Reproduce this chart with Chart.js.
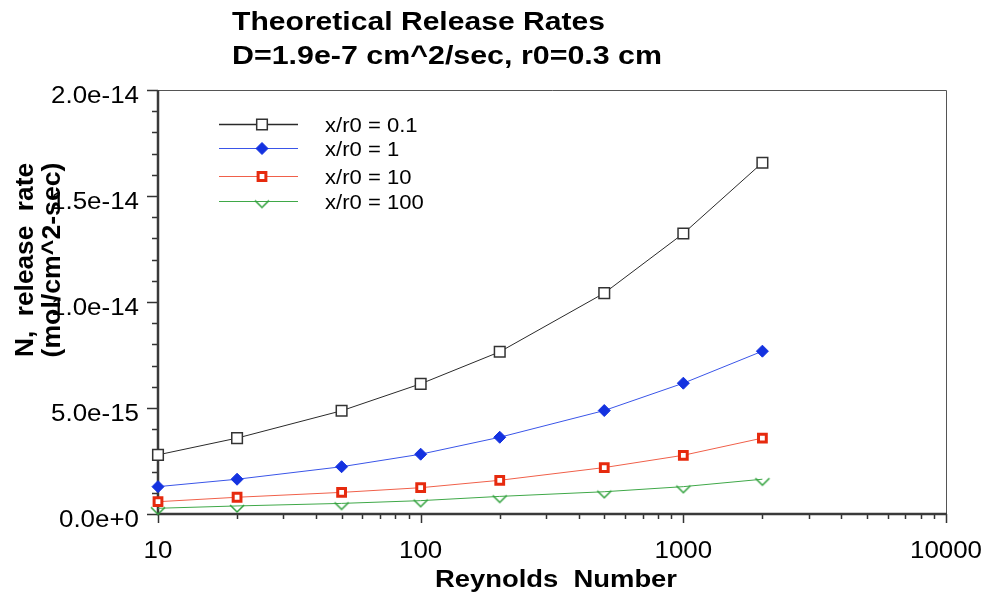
<!DOCTYPE html>
<html>
<head>
<meta charset="utf-8">
<script src="https://cdn.jsdelivr.net/npm/chart.js@4/dist/chart.umd.min.js"></script>
<style>
  body { margin: 0; background: #fff; }
  canvas { display: block; }
</style>
</head>
<body>
<canvas id="chart" width="984" height="594"></canvas>
<script>
// Data (release rate in mol/cm^2-sec)
const reynolds = [10, 20, 50, 100, 200, 500, 1000, 2000];
const rate01  = [2.79e-15, 3.58e-15, 4.87e-15, 6.14e-15, 7.65e-15, 10.42e-15, 13.23e-15, 16.57e-15];
const rate1   = [1.29e-15, 1.64e-15, 2.23e-15, 2.82e-15, 3.62e-15, 4.88e-15, 6.17e-15, 7.68e-15];
const rate10  = [0.58e-15, 0.79e-15, 1.02e-15, 1.24e-15, 1.59e-15, 2.19e-15, 2.77e-15, 3.58e-15];
const rate100 = [0.27e-15, 0.38e-15, 0.50e-15, 0.63e-15, 0.83e-15, 1.05e-15, 1.29e-15, 1.64e-15];
const seriesLabels = ["x/r0 = 0.1", "x/r0 = 1", "x/r0 = 10", "x/r0 = 100"];

const xTickValues = [10, 100, 1000, 10000];
const yTickValues = [0, 5e-15, 1e-14, 1.5e-14, 2e-14];
const yMinorStep = 1e-15;

const titleLines = ["Theoretical Release Rates", "D=1.9e-7 cm^2/sec, r0=0.3 cm"];
const yTitleLines = ["N,  release  rate", "(mol/cm^2-sec)"];
const xTitle = "Reynolds  Number";

const FONT = "'Liberation Sans', Arial, Helvetica, sans-serif";

// green open chevron marker
const chevron = document.createElement("canvas");
chevron.width = 20; chevron.height = 20;
(function(){
  const c = chevron.getContext("2d");
  c.strokeStyle = "#2ea03a"; c.lineWidth = 1.5;
  c.beginPath(); c.moveTo(3, 9); c.lineTo(10, 16); c.lineTo(17, 9); c.stroke();
})();

function pts(arr){ return reynolds.map((x, i) => ({x, y: arr[i]})); }

// draws text, squeezed/stretched horizontally to a width or a factor
function drawText(ctx, s, x, y, font, align, sx, target){
  ctx.save();
  ctx.font = font;
  ctx.textAlign = "left";
  ctx.textBaseline = "alphabetic";
  const w0 = ctx.measureText(s).width;
  if (target) sx = target / w0;
  const w = w0 * sx;
  const x0 = align === "center" ? x - w / 2 : align === "right" ? x - w : x;
  ctx.translate(x0, y);
  ctx.scale(sx, 1);
  ctx.fillStyle = "#000";
  ctx.fillText(s, 0, 0);
  ctx.restore();
}

const axesPlugin = {
  id: "axesPlugin",
  beforeDatasetsDraw(chart){
    const {ctx, chartArea: a, scales: {x, y}} = chart;
    ctx.save();
    // thin frame on top and right
    ctx.strokeStyle = "#555"; ctx.lineWidth = 1;
    ctx.beginPath();
    ctx.moveTo(a.left, a.top + 0.5);
    ctx.lineTo(a.right + 0.5, a.top + 0.5);
    ctx.lineTo(a.right + 0.5, a.bottom);
    ctx.stroke();

    // y ticks
    ctx.strokeStyle = "#333"; ctx.lineWidth = 1.5;
    const nMinor = Math.round(y.max / yMinorStep);
    for (let i = 0; i <= nMinor; i++){
      const py = Math.round(y.getPixelForValue(i * yMinorStep)) + 0.5;
      const len = i % 5 === 0 ? 11 : 6;
      ctx.beginPath(); ctx.moveTo(a.left - len, py); ctx.lineTo(a.left, py); ctx.stroke();
    }
    // x ticks (log)
    for (let d = x.min; d < x.max; d *= 10){
      for (let m = 1; m <= 9; m++){
        const px = Math.round(x.getPixelForValue(d * m)) + 0.5;
        const len = m === 1 ? 9 : 5;
        ctx.beginPath(); ctx.moveTo(px, a.bottom); ctx.lineTo(px, a.bottom + len); ctx.stroke();
      }
    }
    const pxEnd = Math.round(x.getPixelForValue(x.max)) + 0.5;
    ctx.beginPath(); ctx.moveTo(pxEnd, a.bottom); ctx.lineTo(pxEnd, a.bottom + 9); ctx.stroke();

    // main axis lines
    ctx.strokeStyle = "#3a3a3a"; ctx.lineWidth = 2.5;
    ctx.beginPath();
    ctx.moveTo(a.left, a.top);
    ctx.lineTo(a.left, a.bottom);
    ctx.lineTo(a.right + 1, a.bottom);
    ctx.stroke();
    ctx.restore();
  },
  afterDraw(chart){
    const {ctx, chartArea: a, scales: {x, y}} = chart;
    const tickFont = "24px " + FONT;

    yTickValues.forEach(v => {
      drawText(ctx, v.toExponential(1), 139, y.getPixelForValue(v) + 12.5, tickFont, "right", 1.08);
    });
    xTickValues.forEach(v => {
      drawText(ctx, String(v), x.getPixelForValue(v), 558, tickFont, "center", 1.08);
    });

    // titles
    drawText(ctx, titleLines[0], 232, 30, "bold 26px " + FONT, "left", 1, 373);
    drawText(ctx, titleLines[1], 232, 64, "bold 26px " + FONT, "left", 1, 430);
    drawText(ctx, xTitle, 556, 587, "bold 23px " + FONT, "center", 1, 242);

    // rotated y title
    ctx.save();
    ctx.translate(33, 260); ctx.rotate(-Math.PI / 2);
    drawText(ctx, yTitleLines[0], 0, 0, "bold 25px " + FONT, "center", 1, 194);
    ctx.restore();
    ctx.save();
    ctx.translate(60, 260); ctx.rotate(-Math.PI / 2);
    drawText(ctx, yTitleLines[1], 0, 0, "bold 25px " + FONT, "center", 1, 195);
    ctx.restore();

    // legend
    const rows = [124, 148, 176, 201];
    chart.data.datasets.forEach((ds, i) => {
      const ry = rows[i];
      ctx.save();
      ctx.strokeStyle = ds.borderColor; ctx.lineWidth = i === 0 ? 1.5 : 1;
      ctx.beginPath(); ctx.moveTo(219, ry + 0.5); ctx.lineTo(298, ry + 0.5); ctx.stroke();
      ctx.fillStyle = ds.pointBackgroundColor;
      ctx.strokeStyle = ds.pointBorderColor;
      ctx.lineWidth = ds.pointBorderWidth;
      Chart.helpers.drawPoint(ctx, {pointStyle: ds.pointStyle, radius: ds.pointRadius, borderWidth: ds.pointBorderWidth, rotation: 0}, 262, ry + 0.5);
      ctx.restore();
      drawText(ctx, ds.label, 325, ry + 8, "21px " + FONT, "left", 1.05);
    });
  }
};

const ctx = document.getElementById("chart").getContext("2d");
new Chart(ctx, {
  type: "line",
  data: {
    datasets: [
      {label: seriesLabels[0], data: pts(rate01), borderColor: "#2a2a2a", borderWidth: 1,
       pointStyle: "rect", pointRadius: 7.5, pointBorderWidth: 1.5,
       pointBorderColor: "#333", pointBackgroundColor: "#fff"},
      {label: seriesLabels[1], data: pts(rate1), borderColor: "#3a55e8", borderWidth: 1,
       pointStyle: "rectRot", pointRadius: 6, pointBorderWidth: 1,
       pointBorderColor: "#1432e0", pointBackgroundColor: "#1432e0"},
      {label: seriesLabels[2], data: pts(rate10), borderColor: "#f0604a", borderWidth: 1,
       pointStyle: "rect", pointRadius: 5.5, pointBorderWidth: 3,
       pointBorderColor: "#e62a0e", pointBackgroundColor: "#fff"},
      {label: seriesLabels[3], data: pts(rate100), borderColor: "#3fa848", borderWidth: 1,
       pointStyle: chevron, pointRadius: 7, pointBorderWidth: 1,
       pointBorderColor: "#2ea03a", pointBackgroundColor: "#2ea03a"}
    ]
  },
  options: {
    responsive: false,
    animation: false,
    devicePixelRatio: 1,
    events: [],
    clip: false,
    layout: { padding: { left: 158, right: 38, top: 90, bottom: 80 } },
    elements: { line: { tension: 0 } },
    plugins: { legend: { display: false }, title: { display: false }, tooltip: { enabled: false } },
    scales: {
      x: { type: "logarithmic", min: 10, max: 10000, display: false },
      y: { type: "linear", min: 0, max: 2e-14, display: false }
    }
  },
  plugins: [axesPlugin]
});
</script>
</body>
</html>
